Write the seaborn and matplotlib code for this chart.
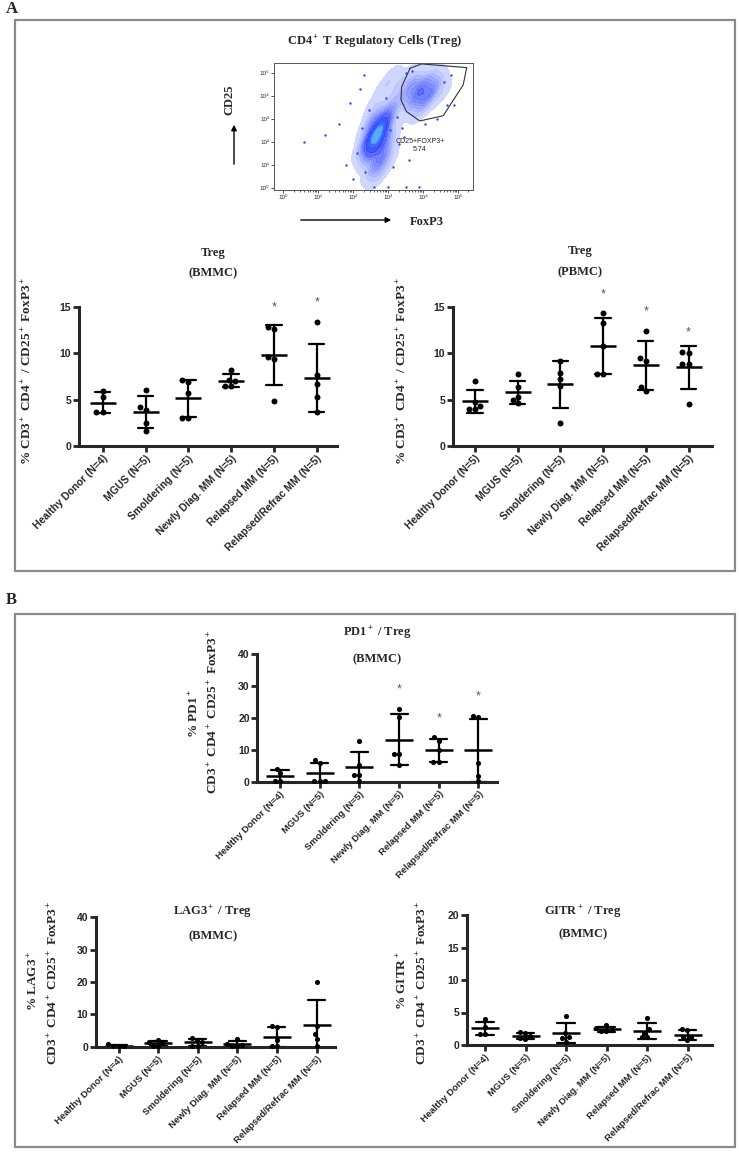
import warnings
warnings.filterwarnings("ignore")
import numpy as np
import pandas as pd
import matplotlib
matplotlib.use("Agg")
import matplotlib.pyplot as plt
import seaborn as sns
from matplotlib.patches import Rectangle, FancyArrowPatch
from matplotlib.colors import LinearSegmentedColormap

# ---------------- data ----------------
cats_b4 = ["Healthy Donor (N=4)", "MGUS (N=5)", "Smoldering (N=5)",
           "Newly Diag. MM (N=5)", "Relapsed MM (N=5)", "Relapsed/Refrac MM (N=5)"]
cats_b5 = ["Healthy Donor (N=5)", "MGUS (N=5)", "Smoldering (N=5)",
           "Newly Diag. MM (N=5)", "Relapsed MM (N=5)", "Relapsed/Refrac MM (N=5)"]

treg_bmmc = [[5.95, 5.3, 3.68, 3.68], [6.05, 4.2, 3.9, 2.5, 1.65],
             [7.1, 6.9, 5.65, 2.97, 2.97], [8.15, 7.0, 7.1, 6.5, 6.5],
             [12.57, 12.8, 9.55, 9.33, 4.83], [13.4, 7.64, 6.67, 5.3, 3.68]]
treg_pbmc = [[7.0, 4.35, 4.0, 4.0, 4.75], [7.7, 6.3, 5.3, 5.0, 4.6],
             [9.18, 7.82, 7.17, 6.45, 2.5], [14.3, 13.3, 10.77, 7.72, 7.72],
             [12.45, 9.45, 9.2, 5.95, 6.4], [10.05, 10.16, 8.83, 8.83, 4.52]]
pd1_treg = [[4.0, 2.6, 0.3, 0.2], [6.8, 5.8, 0.3, 0.3, 0.3],
            [12.8, 5.3, 2.2, 2.0, 0.3], [22.9, 20.5, 8.7, 8.7, 5.1],
            [12.95, 13.9, 10.0, 6.3, 6.3], [20.5, 20.7, 5.8, 1.9, 0.3]]
lag3_treg = [[0.7, 0.1, 0.1, 0.1], [2.0, 1.3, 1.2, 0.3, 0.2],
             [2.8, 2.0, 1.3, 0.3, 0.2], [2.5, 0.8, 0.6, 0.3, 0.1],
             [6.4, 6.0, 2.1, 0.2, 0.1], [20.1, 6.5, 4.0, 2.5, 0.3]]
gitr_treg = [[3.95, 2.8, 1.75, 1.75], [2.0, 1.8, 1.4, 1.1, 0.9],
             [4.4, 1.8, 1.2, 1.1, 0.5], [3.05, 2.6, 2.3, 2.2, 2.1],
             [4.1, 2.4, 1.9, 1.2, 1.2], [2.4, 2.3, 1.3, 1.2, 0.7]]
sig_bmmc = [0, 0, 0, 0, 1, 1]
sig_pbmc = [0, 0, 0, 1, 1, 1]
sig_pd1 = [0, 0, 0, 1, 1, 1]
sig_none = [0, 0, 0, 0, 0, 0]

# flow cytometry (log10 units): density anchors
flow_x = [2.70, 2.65, 2.75, 2.60, 2.80, 2.70, 2.55, 2.85, 2.50, 2.90, 2.75, 2.65, 2.40, 3.00,
          3.90, 4.10, 3.70, 4.30, 3.80, 4.20, 3.55, 4.00, 4.50, 3.60,
          3.00, 3.20, 3.30, 2.90, 3.10, 2.60]
flow_y = [2.30, 2.00, 2.60, 1.60, 1.40, 1.00, 2.80, 2.90, 2.20, 2.00, 0.60, 3.20, 1.90, 1.20,
          4.25, 4.00, 4.45, 4.35, 3.80, 4.70, 4.00, 3.50, 4.10, 4.75,
          3.30, 3.80, 4.50, 4.40, 4.80, 3.60]
flow_w = [10, 9, 8, 6, 5, 4, 4, 4, 4, 4, 2, 2, 2, 1,
          6, 5, 4, 3, 3, 2, 2, 2, 1.5, 1.5,
          2, 1.5, 1.5, 1, 1, 1]
sparse_x = [0.6, 1.2, 1.9, 2.1, 3.4, 4.8, 4.4, 2.3, 3.6, 1.6, 2.0, 4.9, 3.3, 2.2, 1.8,
            2.45, 3.05, 3.25, 2.95, 3.5, 4.6, 4.7, 3.15, 2.25, 3.45, 2.35, 3.7, 4.05,
            2.6, 3.0, 3.5, 3.9]
sparse_y = [2.0, 2.3, 3.7, 1.5, 2.6, 4.9, 3.0, 4.9, 1.2, 2.8, 0.4, 3.6, 1.9, 4.3, 1.0,
            3.4, 2.5, 3.1, 3.9, 5.0, 4.6, 3.6, 0.9, 2.6, 2.2, 0.7, 5.1, 2.8,
            0.05, 0.05, 0.05, 0.05]
gate_x = [3.63, 3.96, 5.25, 5.15, 4.58, 3.91, 3.53, 3.37, 3.39]
gate_y = [5.20, 5.39, 5.23, 4.48, 3.14, 2.91, 3.32, 3.83, 4.40]
gate_label = "CD25+FOXP3+\n5.74"

# ---------------- style ----------------
sns.set_style("ticks")
plt.rcParams["font.family"] = ["Liberation Sans", "DejaVu Sans"]
plt.rcParams["mathtext.fontset"] = "custom"
plt.rcParams["mathtext.rm"] = "Liberation Serif:bold"
plt.rcParams["mathtext.it"] = "Liberation Serif:bold"
plt.rcParams["mathtext.bf"] = "Liberation Serif:bold"
SERIF = ["Liberation Serif", "DejaVu Serif"]

W, H = 739, 1165
fig = plt.figure(figsize=(W / 100, H / 100), dpi=100)
fig.patch.set_facecolor("white")


def add_ax(L, R, T, B):
    return fig.add_axes([L / W, 1 - B / H, (R - L) / W, (B - T) / H])


def ftext(x, y, s, size=9, rot=0, ha="center", va="center"):
    fig.text(x / W, 1 - y / H, s, fontsize=size, family=SERIF, fontweight="bold",
             ha=ha, va=va, rotation=rot)


def fig_arrow(x1, y1, x2, y2):
    fig.add_artist(FancyArrowPatch((x1 / W, 1 - y1 / H), (x2 / W, 1 - y2 / H),
                                   transform=fig.transFigure, arrowstyle="-|>",
                                   mutation_scale=8, lw=1.0, color="black"))


def dot_panel(L, R, x0, step, y0, ppu, ytop, spine_top, yticks, cats, groups, sig,
              dot_size, mean_ms, cap, tick_fs):
    T = y0 - ppu * ytop
    ax = add_ax(L, R, T, y0)
    ax.set_facecolor("none")
    rows = [(c, v) for c, vals in zip(cats, groups) for v in vals]
    df = pd.DataFrame(rows, columns=["group", "value"])
    sns.swarmplot(data=df, x="group", y="value", order=cats, color="black",
                  size=dot_size, ax=ax, zorder=3, clip_on=False)
    sns.pointplot(data=df, x="group", y="value", order=cats, errorbar="sd",
                  capsize=cap, color="black", linestyle="none", marker="_",
                  markersize=mean_ms, markeredgewidth=1.8,
                  err_kws={"linewidth": 1.6}, ax=ax)
    for i, s in enumerate(sig):
        if s:
            ax.annotate("*", (i, max(groups[i])), xytext=(0, 14),
                        textcoords="offset points", ha="center", va="center",
                        fontsize=9, color="#555555")
    ax.set_xlim((L - x0) / step, (R - x0) / step)
    ax.set_ylim(0, ytop)
    ax.set_yticks(yticks)
    ax.set_yticklabels([str(t) for t in yticks], fontweight="bold", fontsize=7.5)
    sns.despine(ax=ax)
    ax.spines["left"].set_bounds(0, spine_top)
    for sp in ("left", "bottom"):
        ax.spines[sp].set_linewidth(2.2)
    ax.set_xlabel("")
    ax.set_ylabel("")
    ax.tick_params(width=2, length=4, pad=1.5)
    ax.set_xticks(range(len(cats)))
    ax.set_xticklabels(cats, rotation=45, ha="right", rotation_mode="anchor",
                       fontweight="bold", fontsize=tick_fs)
    return ax


# ---------------- panel frames & letters ----------------
fig.add_artist(Rectangle((15 / W, 1 - 571 / H), 720 / W, 551 / H, transform=fig.transFigure,
                         fill=False, ec="#8a8a8a", lw=1.6))
fig.add_artist(Rectangle((15 / W, 1 - 1147 / H), 720 / W, 533 / H, transform=fig.transFigure,
                         fill=False, ec="#8a8a8a", lw=1.6))
ftext(6, 9, "A", size=12, ha="left")
ftext(6, 600, "B", size=12, ha="left")

# ---------------- flow cytometry plot ----------------
axf = add_ax(274, 473, 63, 190)
flow_cmap = LinearSegmentedColormap.from_list(
    "flow", ["#d4dbff", "#8a98ff", "#4a5cff", "#2a3cf5", "#3070ff", "#60c8ff"])
sns.kdeplot(x=flow_x, y=flow_y, weights=flow_w, fill=True, levels=12, thresh=0.02,
            bw_adjust=0.6, cmap=flow_cmap, alpha=0.9, ax=axf)
sns.scatterplot(x=sparse_x, y=sparse_y, s=3, color="#3344ff", linewidth=0, ax=axf)
axf.plot(gate_x + gate_x[:1], gate_y + gate_y[:1], color="#333333", lw=0.8)
axf.text(3.91, 1.85, gate_label, fontsize=5, ha="center", va="center",
         linespacing=1.1, color="#222222")
axf.set_xlim(-0.26, 5.43)
axf.set_ylim(-0.09, 5.43)
sup = ["⁰", "¹", "²", "³", "⁴", "⁵"]
axf.set_xticks(range(6))
axf.set_xticklabels(["10" + s for s in sup], fontsize=4.5)
axf.set_yticks(range(6))
axf.set_yticklabels(["10" + s for s in sup], fontsize=4.5)
axf.set_xticks([d + np.log10(m) for d in range(6) for m in range(2, 10) if d + np.log10(m) < 5.43],
               minor=True)
axf.tick_params(width=0.6, length=2.5, pad=1, color="#333333")
axf.tick_params(which="minor", width=0.5, length=1.5)
for sp in axf.spines.values():
    sp.set_linewidth(0.7)
    sp.set_color("#555555")
axf.set_xlabel("")
axf.set_ylabel("")
ftext(375, 42, r"CD4$^+$ T Regulatory Cells (Treg)", size=9)
ftext(229, 100, "CD25", size=9, rot=90)
fig_arrow(234, 167, 234, 122)
ftext(427, 222, "FoxP3", size=9)
fig_arrow(298, 220, 394, 220)

# ---------------- panel A dot plots ----------------
dot_panel(79, 337, 102.7, 42.8, 445.8, 9.26, 17, 15, [0, 5, 10, 15], cats_b4, treg_bmmc,
          sig_bmmc, 4.3, 19, 0.36, 7.5)
ftext(213, 253, "Treg", size=9)
ftext(213, 273, "(BMMC)", size=9)
ftext(27, 371, r"% CD3$^+$ CD4$^+$ / CD25$^+$ FoxP3$^+$", size=9.5, rot=90)

dot_panel(452.7, 712, 475, 42.7, 445.8, 9.26, 17, 15, [0, 5, 10, 15], cats_b5, treg_pbmc,
          sig_pbmc, 4.3, 19, 0.36, 7.5)
ftext(580, 251, "Treg", size=9)
ftext(580, 272, "(PBMC)", size=9)
ftext(402, 371, r"% CD3$^+$ CD4$^+$ / CD25$^+$ FoxP3$^+$", size=9.5, rot=90)

# ---------------- panel B dot plots ----------------
dot_panel(257.3, 496.7, 280, 39.7, 781.7, 3.18, 40, 40, [0, 10, 20, 30, 40], cats_b4, pd1_treg,
          sig_pd1, 3.7, 20, 0.43, 6.8)
ftext(377, 633, r"PD1$^+$ / Treg", size=9)
ftext(377, 659, "(BMMC)", size=9)
ftext(194, 713, r"% PD1$^+$", size=9.5, rot=90)
ftext(213, 712, r"CD3$^+$ CD4$^+$ CD25$^+$ FoxP3$^+$", size=9.5, rot=90)

dot_panel(96, 335, 118.5, 39.6, 1046.7, 3.24, 40, 40, [0, 10, 20, 30, 40], cats_b4, lag3_treg,
          sig_none, 3.7, 20, 0.43, 6.8)
ftext(213, 912, r"LAG3$^+$ / Treg", size=9)
ftext(213, 936, "(BMMC)", size=9)
ftext(33, 981, r"% LAG3$^+$", size=9.5, rot=90)
ftext(53, 983, r"CD3$^+$ CD4$^+$ CD25$^+$ FoxP3$^+$", size=9.5, rot=90)

dot_panel(466.7, 712, 485, 40.5, 1045, 6.5, 20, 20, [0, 5, 10, 15, 20], cats_b4, gitr_treg,
          sig_none, 3.7, 20, 0.43, 6.8)
ftext(583, 912, r"GITR$^+$ / Treg", size=9)
ftext(583, 934, "(BMMC)", size=9)
ftext(402, 981, r"% GITR$^+$", size=9.5, rot=90)
ftext(422, 983, r"CD3$^+$ CD4$^+$ CD25$^+$ FoxP3$^+$", size=9.5, rot=90)

fig.savefig("out.png", dpi=100, facecolor="white")
